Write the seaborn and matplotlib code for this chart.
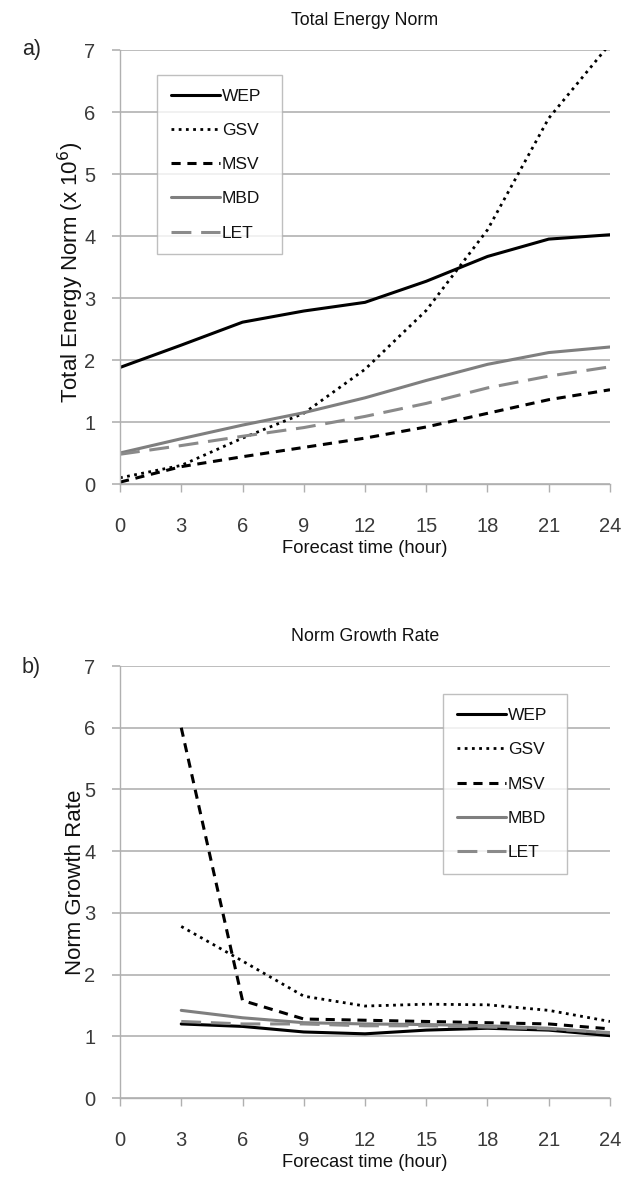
import numpy as np
import pandas as pd
import matplotlib
matplotlib.use("Agg")
import matplotlib.pyplot as plt
import seaborn as sns

hours_a = [0, 3, 6, 9, 12, 15, 18, 21, 24]
hours_b = [3, 6, 9, 12, 15, 18, 21, 24]
series_names = ["WEP", "GSV", "MSV", "MBD", "LET"]

wep_a = [1.88, 2.24, 2.61, 2.79, 2.93, 3.27, 3.67, 3.95, 4.02]
gsv_a = [0.10, 0.30, 0.74, 1.14, 1.85, 2.80, 4.10, 5.90, 7.10]
msv_a = [0.03, 0.28, 0.44, 0.59, 0.74, 0.92, 1.14, 1.36, 1.52]
mbd_a = [0.50, 0.73, 0.95, 1.15, 1.39, 1.67, 1.93, 2.12, 2.21]
let_a = [0.48, 0.62, 0.77, 0.91, 1.09, 1.30, 1.55, 1.74, 1.89]

wep_b = [1.20, 1.16, 1.07, 1.04, 1.10, 1.13, 1.10, 1.01]
gsv_b = [2.78, 2.22, 1.65, 1.49, 1.52, 1.51, 1.42, 1.24]
msv_b = [6.00, 1.58, 1.28, 1.26, 1.24, 1.22, 1.20, 1.12]
mbd_b = [1.42, 1.30, 1.22, 1.20, 1.19, 1.17, 1.13, 1.05]
let_b = [1.24, 1.20, 1.20, 1.17, 1.17, 1.15, 1.12, 1.06]

x_ticks = [0, 3, 6, 9, 12, 15, 18, 21, 24]
y_ticks = [0, 1, 2, 3, 4, 5, 6, 7]

sns.set_theme(style="white")
plt.rcParams['font.family'] = ['Liberation Sans', 'DejaVu Sans']

styles = {
    "WEP": dict(color="#000000", linestyle="-", linewidth=2.2),
    "GSV": dict(color="#000000", linestyle=(0, (1, 1.6)), linewidth=2.0),
    "MSV": dict(color="#000000", linestyle=(0, (3.0, 2.2)), linewidth=2.2),
    "MBD": dict(color="#7f7f7f", linestyle="-", linewidth=2.2),
    "LET": dict(color="#8a8a8a", linestyle=(0, (6.5, 3.2)), linewidth=2.2),
}

fig = plt.figure(figsize=(6.24, 11.79), dpi=100)
W, H = 624, 1179

def make_axes(left, top, right, bottom):
    return fig.add_axes([left / W, 1 - bottom / H, (right - left) / W, (bottom - top) / H])

ax_a = make_axes(120, 50, 610, 484)
ax_b = make_axes(120, 666, 610, 1098)

def draw(ax, hours, data):
    df = pd.DataFrame({"hour": np.tile(hours, len(series_names)),
                       "value": np.concatenate([data[n] for n in series_names]),
                       "series": np.repeat(series_names, len(hours))})
    for n in series_names:
        sub = df[df["series"] == n]
        sns.lineplot(data=sub, x="hour", y="value", ax=ax, label=n, **styles[n])

def style_axes(ax, title, ylabel, ylab_y):
    ax.set_xlim(0, 24)
    ax.set_ylim(0, 7)
    ax.set_xticks(x_ticks)
    ax.set_yticks(y_ticks)
    ax.yaxis.grid(True, color="#b8b8b8", linewidth=1.3)
    ax.xaxis.grid(False)
    ax.set_axisbelow(True)
    for s in ["top", "right"]:
        ax.spines[s].set_visible(False)
    for s in ["left", "bottom"]:
        ax.spines[s].set_color("#b0b0b0")
        ax.spines[s].set_linewidth(1.0)
    ax.tick_params(axis="y", which="both", left=True, length=5.8, width=1.3, color="#b8b8b8",
                   labelsize=14.5, labelcolor="#3a3a3a", pad=12)
    ax.tick_params(axis="x", which="both", bottom=True, length=5.8, width=1.0, color="#b0b0b0",
                   labelsize=14.5, labelcolor="#3a3a3a", pad=18)
    ax.set_title(title, fontsize=12.8, pad=18, color="#111111")
    ax.set_xlabel("Forecast time (hour)", fontsize=13.2, labelpad=3, color="#111111")
    ax.set_ylabel(ylabel, fontsize=16, color="#111111")
    ax.yaxis.set_label_coords(-0.069, ylab_y)

draw(ax_a, hours_a, {"WEP": wep_a, "GSV": gsv_a, "MSV": msv_a, "MBD": mbd_a, "LET": let_a})
draw(ax_b, hours_b, {"WEP": wep_b, "GSV": gsv_b, "MSV": msv_b, "MBD": mbd_b, "LET": let_b})

style_axes(ax_a, "Total Energy Norm", "Total Energy Norm (x 10$^{6}$)", 0.487)
style_axes(ax_b, "Norm Growth Rate", "Norm Growth Rate", 0.5)

def legend(ax, left, top, right, bottom):
    ax0 = ax.get_position()
    bbox = ((left / W - ax0.x0) / ax0.width, (1 - bottom / H - ax0.y0) / ax0.height,
            (right - left) / W / ax0.width, (bottom - top) / H / ax0.height)
    leg = ax.legend(loc="center", bbox_to_anchor=bbox, mode="expand", frameon=True,
                    fancybox=False, fontsize=12.5, handlelength=2.8, handletextpad=0.15,
                    labelspacing=1.1, borderpad=0.8, borderaxespad=0)
    leg.get_frame().set_edgecolor("#b0b0b0")
    leg.get_frame().set_linewidth(1.0)
    for t in leg.get_texts():
        t.set_color("#111111")

legend(ax_a, 157, 78, 282, 251)
legend(ax_b, 443, 697, 567, 871)

fig.text(22 / W, 1 - 50 / H, "a)", fontsize=15.5, va="center", ha="left")
fig.text(22 / W, 1 - 668 / H, "b)", fontsize=15.5, va="center", ha="left")

fig.savefig("out.png", dpi=100, facecolor="white")
